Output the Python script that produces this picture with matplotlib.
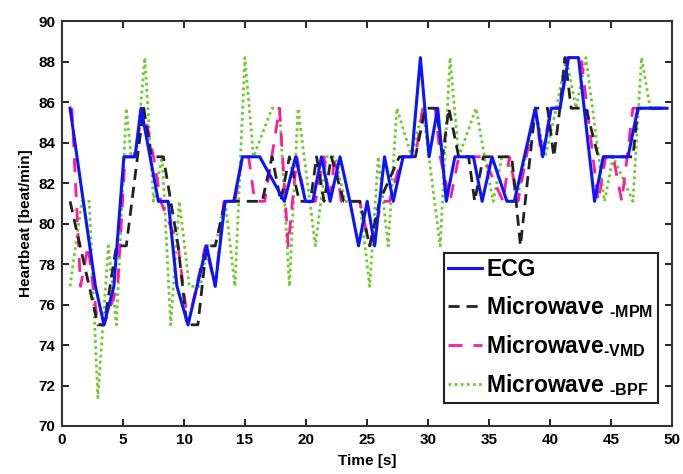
import numpy as np
import matplotlib
matplotlib.use("Agg")
import matplotlib.pyplot as plt

plt.rcParams['font.family'] = ['Liberation Sans', 'DejaVu Sans']
plt.rcParams['mathtext.fontset'] = 'custom'
plt.rcParams['mathtext.rm'] = 'Liberation Sans:bold'
plt.rcParams['mathtext.it'] = 'Liberation Sans:bold'
plt.rcParams['mathtext.bf'] = 'Liberation Sans:bold'

# 心率数据
t_ecg = [0.66, 2.74, 3.44, 4.25, 5.07, 5.98, 6.48, 7.9, 8.71, 9.42, 10.33, 11.85, 12.56, 13.37,
         14.08, 14.79, 16.21, 18.23, 19.15, 19.96, 20.56, 21.27, 21.98, 22.79, 23.6, 24.31,
         25.02, 25.63, 26.44, 27.15, 27.96, 28.67, 29.38, 30.09, 30.8, 31.5, 32.21, 33.73,
         34.44, 35.25, 36.47, 37.08, 38.8, 39.41, 40.11, 40.82, 41.53, 42.34, 43.66, 44.37,
         46.4, 47.21, 49.6]
hr_ecg = [85.7, 76.9, 75.0, 76.9, 83.3, 83.3, 85.7, 81.1, 81.1, 76.9, 75.0, 78.9, 76.9, 81.1, 81.1,
          83.3, 83.3, 81.1, 83.3, 81.1, 81.1, 83.3, 81.1, 83.3, 81.1, 78.9, 81.1, 78.9, 83.3,
          81.1, 83.3, 83.3, 88.2, 83.3, 85.7, 81.1, 83.3, 83.3, 81.1, 83.3, 81.1, 81.1, 85.7,
          83.3, 85.7, 85.7, 88.2, 88.2, 81.1, 83.3, 83.3, 85.7, 85.7]

t_mpm = [0.66, 2.94, 3.44, 4.46, 5.27, 6.69, 7.34, 8.31, 9.52, 10.23, 11.14, 11.85, 12.56, 13.37,
         16.41, 17.22, 17.93, 18.64, 19.45, 20.36, 20.87, 21.48, 22.08, 23.1, 24.41, 25.22,
         26.03, 27.65, 28.97, 29.78, 30.69, 31.2, 31.71, 32.52, 33.33, 33.83, 34.54, 36.87,
         37.58, 38.8, 39.81, 40.32, 40.82, 41.23, 41.74, 42.95, 43.96, 46.8, 47.21, 49.6]
hr_mpm = [81.1, 75.0, 75.0, 78.9, 78.9, 85.7, 83.3, 83.3, 78.9, 75.0, 75.0, 78.9, 78.9, 81.1, 81.1,
          83.3, 81.1, 83.3, 81.1, 81.1, 83.3, 81.1, 83.3, 81.1, 81.1, 78.9, 81.1, 83.3, 83.3,
          85.7, 85.7, 83.3, 85.7, 83.3, 83.3, 81.1, 83.3, 83.3, 78.9, 85.7, 85.7, 83.3, 85.7,
          88.2, 85.7, 85.7, 83.3, 83.3, 85.7, 85.7]

t_vmd = [0.81, 1.52, 2.13, 2.94, 3.44, 4.56, 5.17, 5.88, 6.69, 7.5, 8.1, 9.52, 10.33, 11.75,
         12.56, 13.27, 14.18, 14.79, 15.3, 15.8, 16.61, 17.83, 18.54, 19.25, 19.96, 20.77,
         21.48, 21.88, 22.39, 22.89, 24.41, 25.22, 26.24, 26.84, 27.86, 28.97, 29.58, 30.59,
         31.0, 31.81, 32.52, 34.54, 36.16, 36.67, 37.38, 38.8, 39.3, 40.11, 40.82, 41.43,
         42.55, 43.05, 43.96, 44.57, 45.18, 45.89, 46.8, 49.6]
hr_vmd = [85.7, 76.9, 78.9, 75.0, 75.0, 76.9, 83.3, 83.3, 85.7, 83.3, 81.1, 78.9, 75.0, 78.9, 76.9, 81.1,
          81.1, 83.3, 83.3, 81.1, 81.1, 85.7, 78.9, 83.3, 81.1, 81.1, 83.3, 81.1, 83.3, 81.1,
          81.1, 78.9, 81.1, 81.1, 83.3, 83.3, 85.7, 85.7, 83.3, 81.1, 83.3, 83.3, 81.1, 83.3,
          81.1, 85.7, 83.3, 85.7, 85.7, 88.2, 88.2, 85.7, 81.1, 83.3, 83.3, 81.1, 85.7, 85.7]

t_bpf = [0.66, 1.62, 2.23, 2.94, 3.8, 4.46, 5.27, 5.67, 6.08, 6.79, 7.5, 8.21, 8.91, 9.62,
         10.43, 11.35, 11.95, 12.56, 13.37, 14.18, 14.99, 15.7, 17.22, 17.83, 18.64, 19.35,
         20.77, 21.68, 22.39, 23.2, 24.41, 25.22, 25.93, 26.74, 27.45, 28.67, 29.58, 31.0,
         31.81, 32.52, 33.94, 34.64, 35.35, 36.06, 36.67, 37.28, 38.8, 39.61, 40.52, 41.33,
         42.14, 42.95, 44.47, 45.18, 46.8, 47.51, 48.22, 49.6]
hr_bpf = [76.9, 81.1, 81.1, 71.4, 78.9, 75.0, 85.7, 83.3, 83.3, 88.2, 81.1, 83.3, 75.0, 81.1, 76.9, 76.9,
          78.9, 78.9, 81.1, 76.9, 88.2, 83.3, 85.7, 85.7, 76.9, 85.7, 78.9, 83.3, 83.3, 81.1,
          81.1, 76.9, 83.3, 78.9, 85.7, 83.3, 85.7, 78.9, 88.2, 83.3, 85.7, 83.3, 81.1, 83.3,
          83.3, 81.1, 85.7, 83.3, 85.7, 88.2, 85.7, 88.2, 81.1, 83.3, 81.1, 88.2, 85.7, 85.7]

fig = plt.figure(figsize=(6.83, 4.74), dpi=100)
ax = fig.add_axes([0.0908, 0.1013, 0.893, 0.854])

ax.plot(t_ecg, hr_ecg, color='#0a14ff', lw=2.2, zorder=5, label='ECG')
ax.plot(t_mpm, hr_mpm, color='#222222', lw=2.0, dashes=(4, 2.5), zorder=4,
        label=r'Microwave $_{\text{-MPM}}$')
ax.plot(t_vmd, hr_vmd, color='#ff1a9c', lw=2.0, dashes=(5, 4), zorder=3,
        label=r'Microwave$_{\text{-VMD}}$')
ax.plot(t_bpf, hr_bpf, color='#6fcc2a', lw=2.0, dashes=(1, 1.2), zorder=2,
        label=r'Microwave $_{\text{-BPF}}$')

ax.set_xlim(0, 50)
ax.set_ylim(70, 90)
ax.set_xticks(np.arange(0, 51, 5))
ax.set_yticks(np.arange(70, 91, 2))
ax.tick_params(direction='in', top=True, right=True, length=5, width=1.2,
               labelsize=11, pad=5)
for lab in ax.get_xticklabels() + ax.get_yticklabels():
    lab.set_fontweight('bold')
for s in ax.spines.values():
    s.set_linewidth(1.5)
    s.set_color('#333333')

ax.set_xlabel('Time [s]', fontsize=11, fontweight='bold', labelpad=5)
ax.set_ylabel('Heartbeat [beat/min]', fontsize=11, fontweight='bold', labelpad=4)

leg = ax.legend(loc='lower right', bbox_to_anchor=(0.977, 0.057), borderaxespad=0,
                fontsize=16.5, handlelength=1.45, handletextpad=0.2, labelspacing=0.58,
                borderpad=0.2, fancybox=False, framealpha=1)
leg.get_frame().set_edgecolor('#222222')
leg.get_frame().set_linewidth(1.5)
for txt in leg.get_texts():
    txt.set_fontweight('bold')

fig.savefig('out.png', dpi=100)
